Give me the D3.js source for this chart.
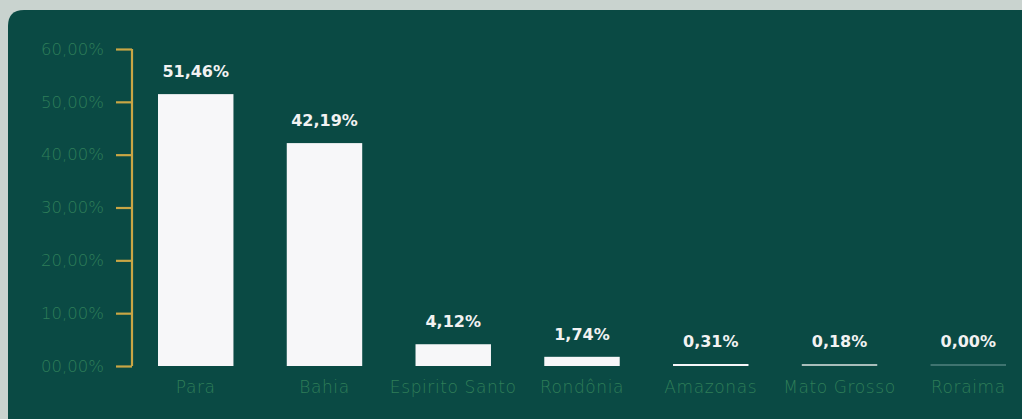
<!DOCTYPE html>
<html><head><meta charset="utf-8">
<script src="https://cdn.jsdelivr.net/npm/d3@7"></script>
<style>
html,body{margin:0;padding:0;background:#c9d3cf;overflow:hidden}
svg{display:block}
</style></head>
<body>
<svg id="chart" width="1022" height="419"></svg>
<script>
const categories = ["Para", "Bahia", "Espirito Santo", "Rondônia", "Amazonas", "Mato Grosso", "Roraima"];
const values = [51.46, 42.19, 4.12, 1.74, 0.31, 0.18, 0.00];
const valueLabels = ["51,46%", "42,19%", "4,12%", "1,74%", "0,31%", "0,18%", "0,00%"];
const tickValues = [0, 10, 20, 30, 40, 50, 60];
const tickLabels = ["00,00%", "10,00%", "20,00%", "30,00%", "40,00%", "50,00%", "60,00%"];

const svg = d3.select("#chart");
const W = 1022, H = 419;

// background panel
svg.append("rect").attr("x", 0).attr("y", 0).attr("width", W).attr("height", H).attr("fill", "#c9d3cf");
svg.append("path")
  .attr("d", `M8,${H+20} L8,26 Q8,10 24,10 L${W+20},10 L${W+20},${H+20} Z`)
  .attr("fill", "#0a4a44");

const y = d3.scaleLinear().domain([0, 60]).range([366, 49]);
const x = d3.scaleBand().domain(categories).range([158, 1006]).paddingInner(0.414).paddingOuter(0);

// y axis
const yAxis = d3.axisLeft(y).tickValues(tickValues).tickFormat((d, i) => tickLabels[i]).tickSize(16).tickSizeOuter(0).tickPadding(12);
const ga = svg.append("g").attr("transform", "translate(132,0)").call(yAxis);
ga.select(".domain").attr("stroke", "#c9a645").attr("stroke-width", 2.2).attr("d", `M0,${y(60)}V${y(0)}`);
ga.selectAll(".tick line").attr("stroke", "#c9a645").attr("stroke-width", 2.2);
ga.selectAll(".tick text").attr("fill", "#2e7e59").attr("font-family", "DejaVu Sans").attr("font-weight", 200).attr("font-size", 16.5);

// bars
svg.selectAll("rect.bar").data(values).enter().append("rect")
  .attr("class", "bar")
  .attr("x", (d, i) => x(categories[i]))
  .attr("width", x.bandwidth())
  .attr("y", d => Math.min(y(d), y(0) - 2))
  .attr("height", d => Math.max(y(0) - y(d), 2))
  .attr("fill", d => d === 0 ? "#3f7470" : (d < 0.25 ? "#a9bebb" : "#f7f7f9"));

// value labels
svg.selectAll("text.val").data(values).enter().append("text")
  .attr("class", "val")
  .attr("x", (d, i) => x(categories[i]) + x.bandwidth() / 2)
  .attr("y", d => Math.min(y(d), y(0) - 2) - 17)
  .attr("text-anchor", "middle")
  .attr("fill", "#f2f2f2")
  .attr("font-family", "DejaVu Sans").attr("font-weight", "bold").attr("font-size", 16)
  .text((d, i) => valueLabels[i]);

// category labels
svg.selectAll("text.cat").data(categories).enter().append("text")
  .attr("class", "cat")
  .attr("x", d => x(d) + x.bandwidth() / 2)
  .attr("y", 393)
  .attr("text-anchor", "middle")
  .attr("fill", "#2f7e58")
  .attr("font-family", "DejaVu Sans").attr("font-weight", 200).attr("font-size", 17)
  .attr("letter-spacing", 0.6)
  .text(d => d);
</script>
</body></html>
